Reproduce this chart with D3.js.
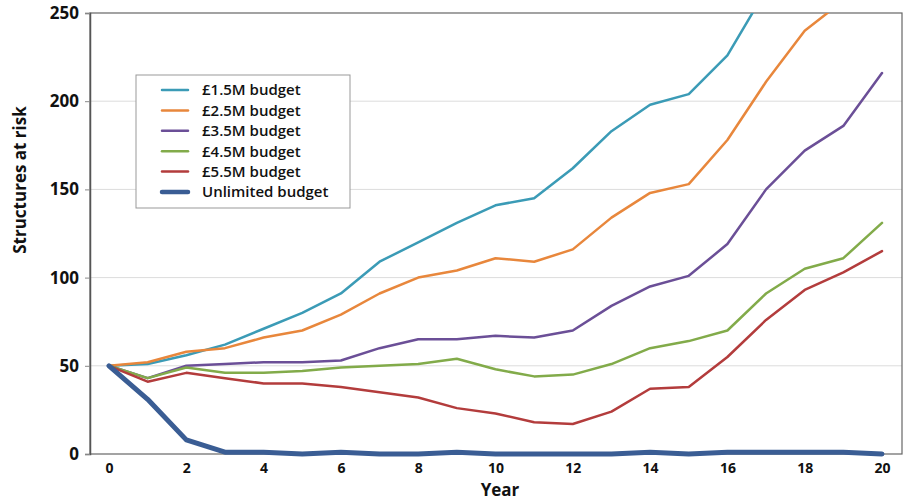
<!DOCTYPE html>
<html><head><meta charset="utf-8">
<script src="https://cdn.jsdelivr.net/npm/d3@7"></script>
<style>body{margin:0;background:#fff}svg{display:block}</style>
</head><body><div id="chart"></div>
<script>
const years = d3.range(0, 21);
const yTicks = [0, 50, 100, 150, 200, 250];
const xTicks = [0, 2, 4, 6, 8, 10, 12, 14, 16, 18, 20];
const seriesNames = ["£1.5M budget", "£2.5M budget", "£3.5M budget", "£4.5M budget", "£5.5M budget", "Unlimited budget"];
const budget15 = [50, 51, 56, 62, 71, 80, 91, 109, 120, 131, 141, 145, 162, 183, 198, 204, 226, 263];
const budget25 = [50, 52, 58, 60, 66, 70, 79, 91, 100, 104, 111, 109, 116, 134, 148, 153, 178, 211, 240, 257];
const budget35 = [50, 43, 50, 51, 52, 52, 53, 60, 65, 65, 67, 66, 70, 84, 95, 101, 119, 150, 172, 186, 216];
const budget45 = [50, 43, 49, 46, 46, 47, 49, 50, 51, 54, 48, 44, 45, 51, 60, 64, 70, 91, 105, 111, 131];
const budget55 = [50, 41, 46, 43, 40, 40, 38, 35, 32, 26, 23, 18, 17, 24, 37, 38, 55, 76, 93, 103, 115];
const unlimited = [50, 31, 8, 1, 1, 0, 1, 0, 0, 1, 0, 0, 0, 0, 1, 0, 1, 1, 1, 1, 0];
const seriesValues = [budget15, budget25, budget35, budget45, budget55, unlimited];
const colors = ["#3b9bb6", "#e8873c", "#6b4f97", "#82ab4a", "#b33c3c", "#3a5d94"];
const widths = [2.5, 2.5, 2.5, 2.5, 2.5, 5];

const W = 908, H = 502;
const m = {left: 90, right: 6, top: 13, bottom: 48};
const svg = d3.select("#chart").append("svg").attr("width", W).attr("height", H);
const x = d3.scaleLinear().domain([0, 20]).range([109, 882]);
const y = d3.scaleLinear().domain([0, 250]).range([454, 13]);
const pr = W - m.right;
const FONT = "'Open Sans', sans-serif";

// grid
svg.append("g").selectAll("line").data(yTicks.filter(t => t > 0 && t < 250)).join("line")
  .attr("x1", m.left).attr("x2", pr).attr("y1", d => y(d)).attr("y2", d => y(d))
  .attr("stroke", "#dcdcdc").attr("stroke-width", 1);

// frame
svg.append("rect").attr("x", m.left).attr("y", y(250)).attr("width", pr - m.left).attr("height", y(0) - y(250))
  .attr("fill", "none").attr("stroke", "#666").attr("stroke-width", 1.2);

// clip
svg.append("clipPath").attr("id", "clip").append("rect")
  .attr("x", m.left).attr("y", y(250)).attr("width", pr - m.left).attr("height", y(0) - y(250) + 3);

const line = d3.line().x((d, i) => x(years[i])).y(d => y(d));
svg.append("g").attr("clip-path", "url(#clip)").selectAll("path").data(seriesValues).join("path")
  .attr("d", d => line(d)).attr("fill", "none")
  .attr("stroke", (d, i) => colors[i]).attr("stroke-width", (d, i) => widths[i])
  .attr("stroke-linejoin", "round").attr("stroke-linecap", "round");

// y axis
const ya = svg.append("g").attr("transform", `translate(${m.left},0)`)
  .call(d3.axisLeft(y).tickValues(yTicks).tickSize(5).tickPadding(6));
ya.select(".domain").attr("stroke", "#555").attr("stroke-width", 1.5);
ya.selectAll(".tick line").attr("stroke", "#888");
ya.selectAll("text").attr("font-family", FONT).attr("font-weight", "bold")
  .attr("font-size", 17).attr("fill", "#111");

// x axis
const xa = svg.append("g").attr("transform", `translate(0,${y(0)})`)
  .call(d3.axisBottom(x).tickValues(xTicks).tickSize(0).tickPadding(9));
xa.select(".domain").remove();
xa.selectAll("text").attr("font-family", FONT)
  .attr("font-weight", "bold").attr("font-size", 14).attr("fill", "#111");

svg.append("text").attr("x", 500).attr("y", 496).attr("text-anchor", "middle")
  .attr("font-family", FONT)
  .attr("font-weight", "bold").attr("font-size", 17).attr("fill", "#111").text("Year");

svg.append("text").attr("transform", "translate(26,180) rotate(-90)").attr("text-anchor", "middle")
  .attr("font-family", FONT).attr("font-weight", "bold")
  .attr("font-size", 17).attr("fill", "#111").text("Structures at risk");

// legend
const lg = svg.append("g");
lg.append("rect").attr("x", 136).attr("y", 75).attr("width", 214).attr("height", 133)
  .attr("fill", "#fff").attr("stroke", "#999").attr("stroke-width", 1);
const items = lg.selectAll("g.item").data(seriesNames).join("g").attr("class", "item")
  .attr("transform", (d, i) => `translate(0,${90 + i * 20.4})`);
items.append("line").attr("x1", 162).attr("x2", 188).attr("y1", 0).attr("y2", 0)
  .attr("stroke", (d, i) => colors[i]).attr("stroke-width", (d, i) => widths[i] === 5 ? 4.5 : 2.5)
  .attr("stroke-linecap", "round");
items.append("text").attr("x", 202).attr("y", 0).attr("dy", "0.36em")
  .attr("font-family", FONT).attr("font-weight", 600)
  .attr("font-size", 15).attr("fill", "#111").text(d => d);
</script></body></html>
